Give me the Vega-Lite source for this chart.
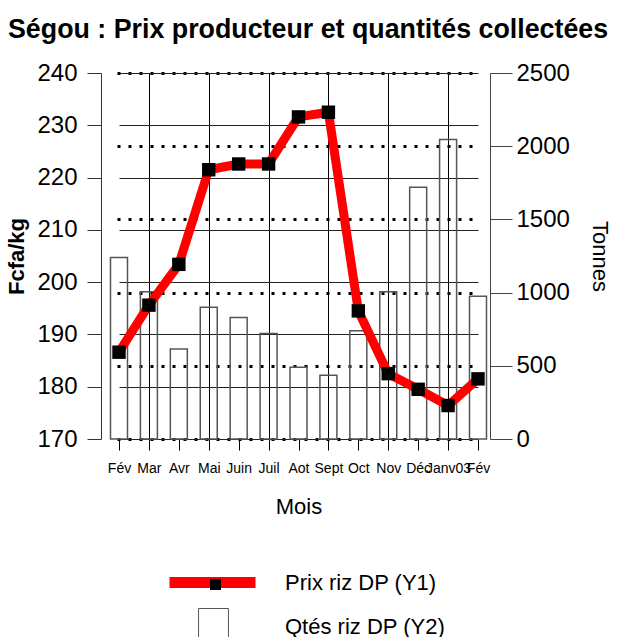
{
  "$schema": "https://vega.github.io/schema/vega-lite/v6.json",
  "width": 389,
  "height": 366,
  "autosize": "none",
  "padding": {"left": 101, "top": 73, "right": 130, "bottom": 198},
  "background": "white",
  "config": {"font": "Liberation Sans", "view": {"stroke": null}},
  "title": {
    "text": "Ségou : Prix producteur et quantités collectées",
    "fontSize": 26.8,
    "fontWeight": "bold",
    "anchor": "start",
    "frame": "group",
    "dx": -93,
    "offset": 17,
    "color": "black"
  },
  "data": {
    "values": [
      {"mois": "Fév", "prix": 186.6, "tonnes": 1240},
      {"mois": "Mar", "prix": 195.6, "tonnes": 1005},
      {"mois": "Avr", "prix": 203.4, "tonnes": 615},
      {"mois": "Mai", "prix": 221.5, "tonnes": 900},
      {"mois": "Juin", "prix": 222.6, "tonnes": 830},
      {"mois": "Juil", "prix": 222.6, "tonnes": 720},
      {"mois": "Aot", "prix": 231.6, "tonnes": 490},
      {"mois": "Sept", "prix": 232.5, "tonnes": 435},
      {"mois": "Oct", "prix": 194.5, "tonnes": 740},
      {"mois": "Nov", "prix": 182.5, "tonnes": 1005},
      {"mois": "Déc", "prix": 179.5, "tonnes": 1720},
      {"mois": "Janv03", "prix": 176.4, "tonnes": 2045},
      {"mois": "Fév 03", "prix": 181.5, "tonnes": 975}
    ]
  },
  "encoding": {
    "x": {
      "field": "mois",
      "type": "nominal",
      "sort": null,
      "scale": {"type": "point", "range": [18, 377], "padding": 0},
      "axis": {
        "title": "Mois",
        "titleFontSize": 22,
        "titleFontWeight": "normal",
        "titleColor": "black",
        "titlePadding": 21,
        "labelAngle": 0,
        "labelFontSize": 14,
        "labelColor": "black",
        "labelPadding": 11,
        "labelOverlap": false,
        "labelExpr": "datum.label == 'Fév 03' ? 'Fév' : datum.label",
        "tickSize": 11,
        "tickColor": "black",
        "domain": false,
        "grid": true,
        "gridColor": "black",
        "gridOpacity": {"condition": {"test": "indexof(['Mar','Mai','Juil','Sept','Nov','Janv03'], datum.value) >= 0", "value": 1}, "value": 0}
      }
    }
  },
  "layer": [
    {
      "mark": {"type": "bar", "size": 17, "fill": "white", "fillOpacity": 0, "strokeWidth": 1.5},
      "encoding": {
        "y": {
          "field": "tonnes",
          "type": "quantitative",
          "scale": {"domain": [0, 2500], "nice": false, "zero": true},
          "axis": {
            "orient": "right",
            "title": "Tonnes",
            "titleFontSize": 22,
            "titleFontWeight": "normal",
            "titleColor": "black",
            "titlePadding": 18,
            "values": [0, 500, 1000, 1500, 2000, 2500],
            "format": "d",
            "labelFontSize": 24,
            "labelColor": "black",
            "labelPadding": 4,
            "labelFlush": false,
            "labelOverlap": false,
            "tickSize": 22,
            "tickColor": "#444",
            "domainColor": "#444",
            "grid": true,
            "gridColor": "black",
            "gridWidth": 3,
            "gridDash": [3, 8]
          }
        },
        "stroke": {
          "datum": "Qtés riz DP (Y2)",
          "scale": {"range": ["#555555"]},
          "legend": {
            "orient": "none",
            "legendX": 94,
            "legendY": 535,
            "title": null,
            "padding": 0,
            "symbolType": "M-0.83,-1H0.83V1H-0.83Z",
            "symbolSize": 1296,
            "symbolFillColor": "white",
            "symbolStrokeColor": "black",
            "symbolStrokeWidth": 1,
            "labelFontSize": 22,
            "labelColor": "black",
            "labelOffset": 53,
            "labelLimit": 300
          }
        }
      }
    },
    {
      "layer": [
        {
          "mark": {"type": "line", "strokeWidth": 9},
          "encoding": {
            "y": {
              "field": "prix",
              "type": "quantitative",
              "scale": {"domain": [170, 240], "nice": false, "zero": false},
              "axis": {
                "orient": "left",
                "title": "Fcfa/kg",
                "titleFontSize": 22,
                "titleFontWeight": "bold",
                "titleColor": "black",
                "titlePadding": 8,
                "values": [170, 180, 190, 200, 210, 220, 230, 240],
                "labelFontSize": 24,
                "labelColor": "black",
                "labelPadding": 10,
                "labelFlush": false,
                "labelOverlap": false,
                "tickSize": 14,
                "tickColor": "#333",
                "domainColor": "#333",
                "grid": true,
                "gridColor": "#222",
                "gridWidth": 1
              }
            },
            "color": {
              "datum": "Prix riz DP (Y1)",
              "scale": {"range": ["#ff0000"]},
              "legend": {
                "orient": "none",
                "legendX": 63,
                "legendY": 461,
                "title": null,
                "padding": 0,
                "symbolType": "stroke",
                "symbolSize": 7396,
                "symbolStrokeWidth": 11,
                "labelFontSize": 22,
                "labelColor": "black",
                "labelOffset": 24,
                "labelLimit": 300
              }
            }
          }
        },
        {
          "mark": {"type": "point", "shape": "square", "filled": true, "color": "black", "size": 180, "opacity": 1},
          "encoding": {
            "y": {"field": "prix", "type": "quantitative"},
            "shape": {
              "datum": "pt",
              "scale": {"range": ["square"]},
              "legend": {
                "orient": "none",
                "legendX": 109,
                "legendY": 506,
                "title": null,
                "padding": 0,
                "symbolSize": 121,
                "symbolFillColor": "black",
                "symbolStrokeColor": "black",
                "symbolStrokeWidth": 0,
                "labelExpr": "''"
              }
            }
          }
        }
      ]
    }
  ],
  "resolve": {"scale": {"y": "independent"}}
}
